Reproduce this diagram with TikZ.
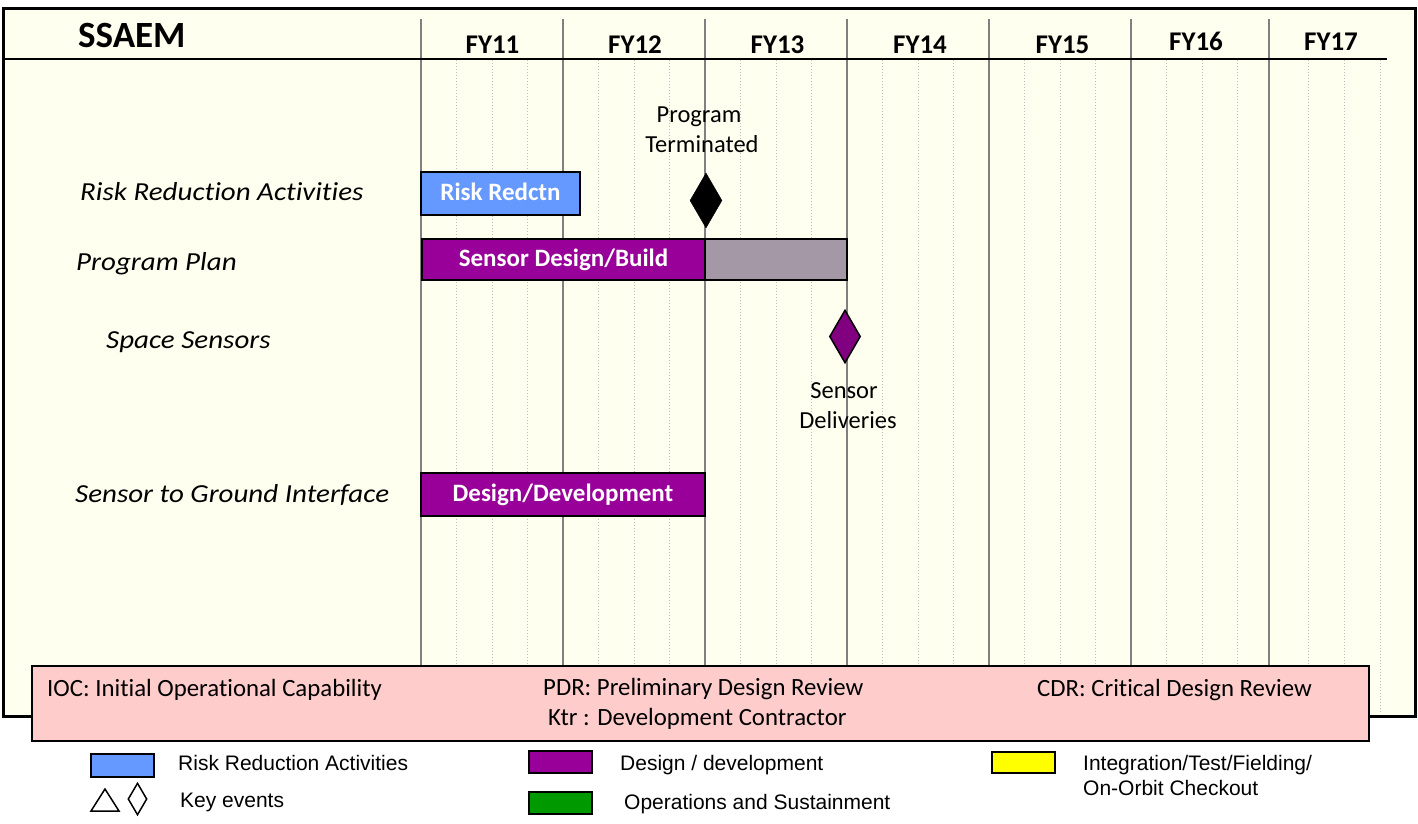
\documentclass[tikz,border=0pt]{standalone}
\usepackage{fontspec}
\setmainfont{Carlito}[Ligatures=NoCommon]
\newfontfamily\rowfont{Carlito}[FakeStretch=1.115, Ligatures=NoCommon]
\newfontfamily\arialfont{Liberation Sans}
\usetikzlibrary{shapes.geometric}
\definecolor{bgc}{RGB}{255,255,240}
\definecolor{majgray}{RGB}{128,128,128}
\definecolor{mingray}{RGB}{190,190,190}
\definecolor{riskblue}{RGB}{102,153,255}
\definecolor{dpurple}{RGB}{153,0,153}
\definecolor{dkpurple}{RGB}{128,0,128}
\definecolor{barGray}{RGB}{165,152,166}
\definecolor{pinkc}{RGB}{255,204,204}
\definecolor{opsgreen}{RGB}{0,153,0}
\definecolor{intyellow}{RGB}{255,255,0}
\begin{document}
\begin{tikzpicture}[x=1pt,y=-1pt,
  fy/.style={font=\fontsize{27}{30}\selectfont\bfseries, anchor=base, inner sep=0},
  rowlabel/.style={font=\rowfont\fontsize{26}{30}\selectfont\itshape, anchor=base west, inner sep=0},
  bar/.style={draw=black, line width=2pt, text=white, inner sep=0,
    font=\fontsize{25}{30}\selectfont\bfseries, text height=14, text depth=0},
  event/.style={diamond, inner sep=0, draw=black},
  evtext/.style={font=\fontsize{24.5}{28}\selectfont, anchor=base, inner sep=0},
  note/.style={font=\fontsize{24.8}{28}\selectfont, anchor=base west, inner sep=0},
  swatch/.style={draw=black, line width=2pt, minimum width=63, minimum height=23, inner sep=0},
  legtext/.style={font=\arialfont\fontsize{21}{24}\selectfont, anchor=base west, inner sep=0}
]
\useasboundingbox (0,0) rectangle (1418,824);
\fill[white] (0,0) rectangle (1418,824);
% main frame
\draw[line width=3pt, fill=bgc] (3,8.5) rectangle (1415,716);
% minor dotted grid lines
\foreach \x in {421,563,705,847,989,1131}{
  \foreach \k in {1,2,3}{
    \draw[mingray, dotted, line width=1pt] ({\x+35.5*\k},60) -- ({\x+35.5*\k},714);
  }
}
\foreach \x in {1308,1344,1380}{
  \draw[mingray, dotted, line width=1pt] (\x,60) -- (\x,714);
}
% major year lines
\foreach \x in {421,563,705,847,989,1131,1269}{
  \draw[majgray, line width=1.8pt] (\x,19) -- (\x,714);
}
% header line
\draw[line width=2pt] (3,59) -- (1387,59);
% title and years
\node[font=\fontsize{37}{40}\selectfont\bfseries, anchor=base west, inner sep=0] (title) at (78,48) {SSAEM};
\node[fy] (fy11) at (492.5,53.3) {FY11};
\node[fy] (fy12) at (635,53.3) {FY12};
\node[fy] (fy13) at (777.5,53.3) {FY13};
\node[fy] (fy14) at (920,53.3) {FY14};
\node[fy] (fy15) at (1062.5,53.3) {FY15};
\node[fy] (fy16) at (1196,50.3) {FY16};
\node[fy] (fy17) at (1331,50.6) {FY17};
% row labels
\node[rowlabel] (lrisk) at (80,200.7) {Risk Reduction Activities};
\node[rowlabel] (lplan) at (76,270) {Program Plan};
\node[rowlabel] (lspace) at (106,348) {Space Sensors};
\node[rowlabel] (lground) at (75,502) {Sensor to Ground Interface};
% bars
\node[bar, fill=riskblue, minimum width=159, minimum height=43] (rr) at (500.5,193.5) {Risk Redctn};
\node[draw=black, line width=1.5pt, fill=barGray, minimum width=142, minimum height=41, inner sep=0] (gray) at (776,259.5) {};
\node[bar, fill=dpurple, minimum width=283, minimum height=41] (sdb) at (563.5,259.5) {Sensor Design/Build};
\node[bar, fill=dpurple, minimum width=284, minimum height=43] (dd) at (563,494.5) {Design/Development};
% events
\node[event, fill=black, minimum width=32, minimum height=55] (term) at (706,200.5) {};
\node[evtext] (term1) at (699,123) {Program};
\node[evtext] (term2) at (702,153) {Terminated};
\node[event, fill=dkpurple, line width=1.5pt, minimum width=31, minimum height=53] (deliv) at (845,336.5) {};
\node[evtext] (deliv1) at (844,398) {Sensor};
\node[evtext] (deliv2) at (848,428) {Deliveries};
% notes box
\node[draw=black, line width=2pt, fill=pinkc, minimum width=1337, minimum height=75, inner sep=0, anchor=north west] (notes) at (31,665) {};
\node[note] (ioc) at (47,696.5) {IOC: Initial Operational Capability};
\node[note] (pdr) at (543,695.7) {PDR: Preliminary Design Review};
\node[note] (cdr) at (1037,696) {CDR: Critical Design Review};
\node[note] (ktr) at (548,725) {Ktr : Development Contractor};
% legend
\node[swatch, fill=riskblue] (sw1) at (122.5,765.5) {};
\node[legtext] (t1) at (178,770) {Risk Reduction Activities};
\draw[line width=1.5pt, line join=miter] (91,811) -- (119,811) -- (105,789) -- cycle;
\node[event, line width=1.5pt, minimum width=19, minimum height=32] (legdia) at (137.5,799) {};
\node[legtext] (t2) at (180,807.7) {Key events};
\node[swatch, fill=dpurple, minimum height=22] (sw2) at (560,762) {};
\node[legtext] (t3) at (620,770) {Design / development};
\node[swatch, fill=opsgreen, minimum height=22] (sw3) at (560,803) {};
\node[legtext] (t4) at (624,809) {Operations and Sustainment};
\node[swatch, fill=intyellow, minimum height=21] (sw4) at (1023.5,762.5) {};
\node[legtext] (t5) at (1083,770) {Integration/Test/Fielding/};
\node[legtext] (t6) at (1083,795) {On-Orbit Checkout};
\end{tikzpicture}
\end{document}
